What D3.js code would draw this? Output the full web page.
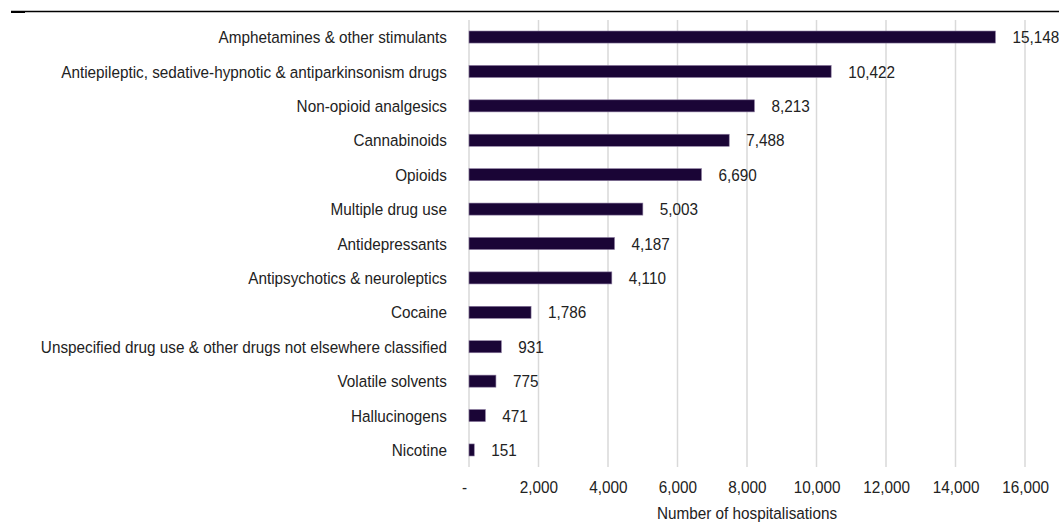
<!DOCTYPE html>
<html>
<head>
<meta charset="utf-8">
<title>Drug-related hospitalisations</title>
<script src="https://d3js.org/d3.v7.min.js"></script>
<style>
  body { margin: 0; background: #fff; }
  svg { display: block; font-family: "Liberation Sans", Arial, sans-serif; }
  .lbl { font-size: 17px; fill: #222; }
</style>
</head>
<body>
<svg width="1059" height="529"></svg>
<script>
// data
var drugs = [
  "Amphetamines & other stimulants",
  "Antiepileptic, sedative-hypnotic & antiparkinsonism drugs",
  "Non-opioid analgesics",
  "Cannabinoids",
  "Opioids",
  "Multiple drug use",
  "Antidepressants",
  "Antipsychotics & neuroleptics",
  "Cocaine",
  "Unspecified drug use & other drugs not elsewhere classified",
  "Volatile solvents",
  "Hallucinogens",
  "Nicotine"
];
var hospitalisations = [15148, 10422, 8213, 7488, 6690, 5003, 4187, 4110, 1786, 931, 775, 471, 151];
var xTicks = [0, 2000, 4000, 6000, 8000, 10000, 12000, 14000, 16000];
var xTitle = "Number of hospitalisations";

var svg = d3.select("svg");
var fmt = d3.format(",");
var narrow = 0.9; // the original uses a condensed face

var x = d3.scaleLinear().domain([0, 16000]).range([469, 1025]);
var y = d3.scaleBand().domain(drugs).range([20, 467]).paddingInner(0.65).paddingOuter(0.32);

function placeText(sel, fx, fy) {
  sel.attr("transform", function(d, i) {
    return "translate(" + fx(d, i) + "," + fy(d, i) + ") scale(" + narrow + ",1)";
  });
}

// rule across the top
svg.append("line")
  .attr("x1", 11).attr("x2", 1059).attr("y1", 11.5).attr("y2", 11.5)
  .attr("stroke", "#000").attr("stroke-width", 1.5);
svg.append("line")
  .attr("x1", 11).attr("x2", 25).attr("y1", 12).attr("y2", 12)
  .attr("stroke", "#000").attr("stroke-width", 2);

// gridlines
svg.append("g").selectAll("line")
  .data(xTicks)
  .join("line")
  .attr("x1", function(d) { return x(d); })
  .attr("x2", function(d) { return x(d); })
  .attr("y1", 20).attr("y2", 467)
  .attr("stroke", "#d9d9d9").attr("stroke-width", 1.5);

// x axis labels
var xAxis = svg.append("g")
  .attr("transform", "translate(0,481)")
  .call(d3.axisBottom(x).tickValues(xTicks).tickSize(0).tickPadding(0)
    .tickFormat(function(d) { return d === 0 ? "-" : fmt(d); }));
xAxis.select(".domain").remove();
xAxis.selectAll("text")
  .attr("class", "lbl")
  .attr("font-family", null).attr("font-size", null)
  .attr("y", null)
  .attr("transform", function(d) { return "translate(" + (d === 0 ? -5 : 0) + ",0) scale(" + narrow + ",1)"; });

svg.append("text")
  .attr("class", "lbl")
  .attr("text-anchor", "middle")
  .attr("transform", "translate(" + x(8000) + ",519) scale(" + narrow + ",1)")
  .text(xTitle);

// bars
svg.append("g").selectAll("rect")
  .data(hospitalisations)
  .join("rect")
  .attr("x", x(0))
  .attr("y", function(d, i) { return y(drugs[i]); })
  .attr("width", function(d) { return x(d) - x(0); })
  .attr("height", y.bandwidth())
  .attr("fill", "#1a0536")
  .attr("stroke", "#8a7a9e").attr("stroke-width", 0.6);

// value labels
svg.append("g").selectAll("text")
  .data(hospitalisations)
  .join("text")
  .attr("class", "lbl")
  .attr("dy", "0.36em")
  .text(function(d) { return fmt(d); })
  .call(placeText,
    function(d) { return x(d) + 17; },
    function(d, i) { return y(drugs[i]) + y.bandwidth() / 2; });

// category labels
svg.append("g").selectAll("text")
  .data(drugs)
  .join("text")
  .attr("class", "lbl")
  .attr("dy", "0.36em")
  .attr("text-anchor", "end")
  .text(function(d) { return d; })
  .call(placeText,
    function() { return 447; },
    function(d) { return y(d) + y.bandwidth() / 2; });
</script>
</body>
</html>
